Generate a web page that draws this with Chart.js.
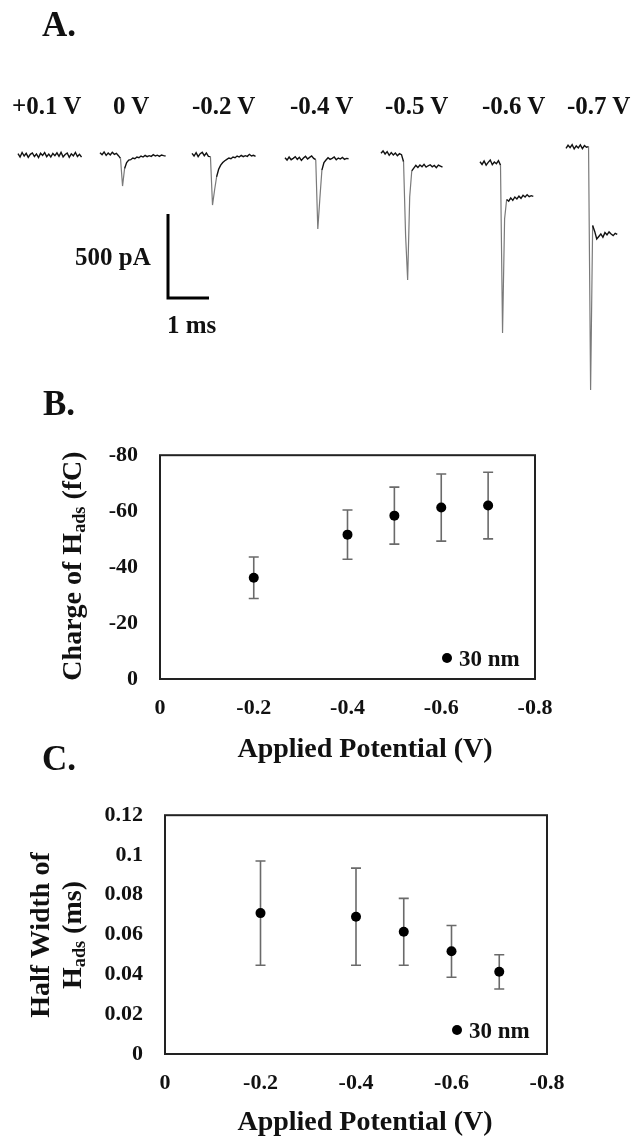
<!DOCTYPE html>
<html>
<head>
<meta charset="utf-8">
<title>Hads charge and half width vs applied potential</title>
<script src="https://cdn.jsdelivr.net/npm/chart.js@4/dist/chart.umd.min.js"></script>
<style>
  body { margin: 0; background: #fff; }
  #fig { position: relative; width: 636px; height: 1137px; overflow: hidden;
         font-family: "Liberation Serif", "Times New Roman", serif; font-weight: bold; color: #111; }
  canvas { position: absolute; left: 0; }
  .t { position: absolute; white-space: nowrap; line-height: 1; }
  .rot { position: absolute; white-space: nowrap; line-height: 1;
         transform: translate(-50%, -50%) rotate(-90deg); }
  .ctr { transform: translateX(-50%); }
  sub { font-size: 65%; vertical-align: -0.22em; line-height: 0; }
</style>
</head>
<body>
<div id="fig">
  <canvas id="traces" width="636" height="400" style="top:0"></canvas>
  <canvas id="charge" width="636" height="320" style="top:420px"></canvas>
  <canvas id="width" width="636" height="340" style="top:780px"></canvas>

  <div class="t" style="left:42px;top:7px;font-size:35px">A.</div>
  <div class="t" style="left:43px;top:386px;font-size:35px">B.</div>
  <div class="t" style="left:42px;top:741px;font-size:35px">C.</div>

  <div class="t" style="left:75px;top:244px;font-size:25px">500 pA</div>
  <div class="t" style="left:167px;top:312px;font-size:25px">1 ms</div>

  <div class="t ctr" style="left:365px;top:734px;font-size:28px">Applied Potential (V)</div>
  <div class="t ctr" style="left:365px;top:1107px;font-size:28px">Applied Potential (V)</div>

  <div class="rot" style="left:72px;top:566px;font-size:28px">Charge of H<sub>ads</sub> (fC)</div>
  <div class="rot" style="left:40px;top:935px;font-size:28px">Half Width of</div>
  <div class="rot" style="left:72px;top:935px;font-size:28px">H<sub>ads</sub> (ms)</div>
</div>

<script>
// ---- panel A: current transients, pA, one sample every 0.05 ms ----
const traceLabels = ['+0.1 V', '0 V', '-0.2 V', '-0.4 V', '-0.5 V', '-0.6 V', '-0.7 V'];
const sampleStepMs = 0.05;
const traceP01 = [8, -12, 15, -6, 10, -14, 4, 12, -9, 6, -15, 10, -3, 14, -10, 5,
  -12, 9, -4, 13, -8, 16, -11, 3, 12, -14, 7, -5, 15, -9, 4, -13];
const trace00 = [14, 2, 18, -2, 12, 0, 16, 4, 10, -4, -20, -185, -80, -45, -30,
  -28, -18, -22, -12, -16, -6, -12, -2, -10, -4, -8, 2, -6, -1, -8, 0, -4, -6];
const traceM02 = [10, -6, 14, -10, 8, 16, -4, 12, -8, -10, -298, -210, -130, -85, -60, -45, -34,
  -26, -18, -22, -12, -16, -6, -12, -2, -10, -4, -8, 4, -6, -2, -8];
const traceM04 = [-16, -30, -12, -28, -20, -10, -26, -14, -32, -18, -8, -24, -14, -6, -20,
  -28, -440, -260, -90, -45, -30, -16, -26, -20, -12, -28, -18, -24, -14, -26, -20, -22];
const traceM05 = [10, 24, 6, 20, -2, 14, 0, 12, -4, 8, 2, -40, -480, -744, -250, -95,
  -78, -62, -74, -60, -70, -56, -72, -64, -58, -70, -62, -76, -60, -66, -72];
const traceM06 = [-40, -56, -36, -60, -44, -30, -58, -42, -52, -34, -60, -1060, -380, -265,
  -275, -255, -270, -250, -262, -245, -258, -240, -250, -236, -248, -242, -246];
const traceM07 = [40, 58, 44, 62, 36, 54, 42, 60, 38, 56, 46, 50, -1399, -420, -455, -500,
  -485, -470, -490, -462, -475, -458, -470, -480, -466, -472];
const traceValues = [traceP01, trace00, traceM02, traceM04, traceM05, traceM06, traceM07];
const scaleBarPa = 500;
const scaleBarMs = 1;

// ---- panels B and C ----
const potentials = [-0.2, -0.4, -0.5, -0.6, -0.7];
const chargeFc = [-36.2, -51.6, -58.4, -61.3, -62.0];
const chargeErr = [7.4, 8.8, 10.2, 12.0, 11.9];
const halfWidthMs = [0.0708, 0.0690, 0.0614, 0.0516, 0.0413];
const halfWidthErr = [0.0262, 0.0244, 0.0168, 0.0130, 0.0086];
const seriesLabel = '30 nm';
const potentialTicks = [0, -0.2, -0.4, -0.6, -0.8];
const chargeTicks = [0, -20, -40, -60, -80];
const widthTicks = [0, 0.02, 0.04, 0.06, 0.08, 0.1, 0.12];

// layout of panel A (pixels on the 636x400 canvas)
const pxPerMs = 41;
const pxPerPa = 84 / 500;
const zeroPx = 155;
const traceStartMs = [18, 100, 192, 285, 381, 480, 566].map(p => p / pxPerMs);
const labelLeftPx = [12, 113, 192, 290, 385, 482, 567];
const scaleBarCorner = { x: 168 / pxPerMs, y: (zeroPx - 298) / pxPerPa };

const SERIF = '"Liberation Serif", "Times New Roman", serif';
const fig = document.getElementById('fig');
traceLabels.forEach((txt, i) => {
  const d = document.createElement('div');
  d.className = 't';
  d.style.cssText = `left:${labelLeftPx[i]}px;top:93px;font-size:25px`;
  d.textContent = txt;
  fig.appendChild(d);
});

const traceSets = traceValues.map((vals, k) => ({
  label: traceLabels[k],
  data: vals.map((v, i) => ({ x: traceStartMs[k] + i * sampleStepMs, y: v })),
  showLine: true,
  pointRadius: 0,
  borderWidth: 1.4,
  borderColor: '#111',
  tension: 0,
  segment: {
    borderColor: c => Math.abs(c.p1.parsed.y - c.p0.parsed.y) > 60 ? '#7a7a7a' : '#111',
    borderWidth: c => Math.abs(c.p1.parsed.y - c.p0.parsed.y) > 60 ? 1.2 : 1.4
  }
}));
traceSets.push({
  label: 'scale bar',
  data: [
    { x: scaleBarCorner.x, y: scaleBarCorner.y + scaleBarPa },
    { x: scaleBarCorner.x, y: scaleBarCorner.y },
    { x: scaleBarCorner.x + scaleBarMs, y: scaleBarCorner.y }
  ],
  showLine: true,
  pointRadius: 0,
  borderWidth: 3,
  borderColor: '#000',
  borderJoinStyle: 'miter',
  borderCapStyle: 'butt'
});

new Chart(document.getElementById('traces'), {
  type: 'scatter',
  data: { datasets: traceSets },
  options: {
    responsive: false,
    animation: false,
    layout: { padding: 0 },
    plugins: { legend: { display: false }, tooltip: { enabled: false } },
    scales: {
      x: { display: false, min: 0, max: 636 / pxPerMs },
      y: { display: false, min: (zeroPx - 400) / pxPerPa, max: zeroPx / pxPerPa }
    }
  }
});

// frame, error bars and inside legend
const framePlugin = {
  id: 'frame',
  beforeDatasetsDraw(chart) {
    const { ctx, chartArea: a } = chart;
    ctx.save();
    ctx.strokeStyle = '#222';
    ctx.lineWidth = 2;
    ctx.strokeRect(a.left, a.top, a.right - a.left, a.bottom - a.top);
    ctx.restore();
  }
};

const errorBarPlugin = {
  id: 'errorBars',
  beforeDatasetsDraw(chart) {
    const { ctx, scales: { x, y } } = chart;
    chart.data.datasets.forEach(ds => {
      if (!ds.errors) return;
      ctx.save();
      ctx.strokeStyle = '#6a6a6a';
      ctx.lineWidth = 1.6;
      ds.data.forEach((p, i) => {
        const px = x.getPixelForValue(p.x);
        const y1 = y.getPixelForValue(p.y - ds.errors[i]);
        const y2 = y.getPixelForValue(p.y + ds.errors[i]);
        ctx.beginPath();
        ctx.moveTo(px, y1); ctx.lineTo(px, y2);
        ctx.moveTo(px - 5, y1); ctx.lineTo(px + 5, y1);
        ctx.moveTo(px - 5, y2); ctx.lineTo(px + 5, y2);
        ctx.stroke();
      });
      ctx.restore();
    });
  }
};

const insideLegend = {
  id: 'insideLegend',
  afterDraw(chart, args, opts) {
    const { ctx, chartArea: a } = chart;
    const cx = a.right + opts.dx, cy = a.bottom + opts.dy;
    ctx.save();
    ctx.fillStyle = '#000';
    ctx.beginPath();
    ctx.arc(cx, cy, 5, 0, Math.PI * 2);
    ctx.fill();
    ctx.font = 'bold 23px ' + SERIF;
    ctx.textAlign = 'left';
    ctx.textBaseline = 'alphabetic';
    ctx.fillStyle = '#111';
    ctx.fillText(chart.data.datasets[0].label, cx + 12, cy + 8);
    ctx.restore();
  }
};

function panel(id, values, errors, yTicks, yFmt, pad, legendPos) {
  const tickFont = { family: SERIF, size: 22, weight: 'bold' };
  return new Chart(document.getElementById(id), {
    type: 'scatter',
    data: {
      datasets: [{
        label: seriesLabel,
        data: potentials.map((p, i) => ({ x: p, y: values[i] })),
        errors: errors,
        pointRadius: 5,
        pointHoverRadius: 5,
        backgroundColor: '#000',
        borderWidth: 0
      }]
    },
    options: {
      responsive: false,
      animation: false,
      layout: { padding: pad },
      plugins: {
        legend: { display: false },
        tooltip: { enabled: false },
        insideLegend: legendPos
      },
      scales: {
        x: {
          type: 'linear',
          min: -0.8, max: 0, reverse: true,
          afterBuildTicks: ax => { ax.ticks = potentialTicks.map(v => ({ value: v })); },
          afterFit: ax => { ax.height = 40; },
          grid: { display: false, drawTicks: false },
          border: { display: false },
          ticks: {
            font: tickFont, color: '#111', padding: 16, maxRotation: 0,
            callback: v => Math.abs(v) < 1e-9 ? '0' : v.toFixed(1)
          }
        },
        y: {
          type: 'linear',
          min: Math.min(...yTicks), max: Math.max(...yTicks),
          reverse: yTicks[yTicks.length - 1] < 0,
          afterBuildTicks: ax => { ax.ticks = yTicks.map(v => ({ value: v })); },
          afterFit: ax => { ax.width = 60; },
          grid: { display: false, drawTicks: false },
          border: { display: false },
          ticks: { font: tickFont, color: '#111', padding: 22, callback: yFmt }
        }
      }
    },
    plugins: [framePlugin, errorBarPlugin, insideLegend]
  });
}

panel('charge', chargeFc, chargeErr, chargeTicks,
  v => String(Math.round(v)),
  { left: 100, right: 101, top: 23, bottom: 21 },
  { dx: -88, dy: -21 });

panel('width', halfWidthMs, halfWidthErr, widthTicks,
  v => Math.abs(v) < 1e-9 ? '0' : String(Number(v.toFixed(2))),
  { left: 105, right: 89, top: 27, bottom: 26 },
  { dx: -90, dy: -24 });
</script>
</body>
</html>
